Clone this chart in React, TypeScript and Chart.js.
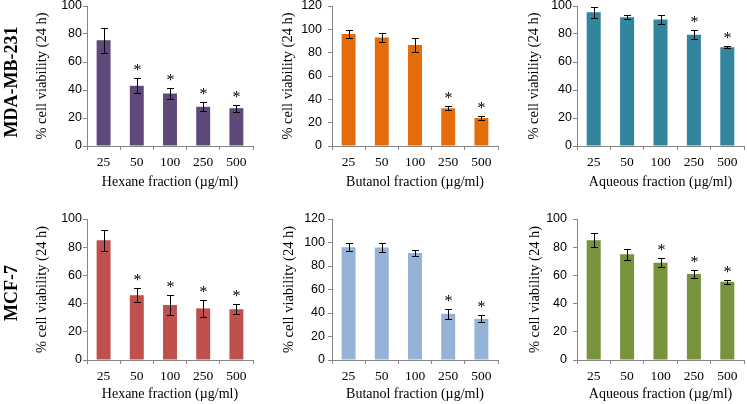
import React, { useEffect, useRef } from 'react';
import { Chart, registerables } from 'chart.js';

Chart.register(...registerables);

// ---------- data ----------
const categories = ['25', '50', '100', '250', '500'];

const hexaneMDA = [75.5, 43, 37.5, 28, 27];
const hexaneMDAErr = [8.8, 5.3, 3.7, 3.1, 2.6];
const hexaneMDAStars = [false, true, true, true, true];

const butanolMDA = [96, 93, 86.5, 32.3, 24];
const butanolMDAErr = [3.2, 4.2, 6, 1.7, 1.4];
const butanolMDAStars = [false, false, false, true, true];

const aqueousMDA = [95.5, 92, 90.3, 79.5, 70.5];
const aqueousMDAErr = [3.8, 1.5, 3, 3.2, 0.6];
const aqueousMDAStars = [false, false, false, true, true];

const hexaneMCF = [85, 46, 39, 36.6, 36];
const hexaneMCFErr = [7.5, 5, 6.8, 6.2, 3.4];
const hexaneMCFStars = [false, true, true, true, true];

const butanolMCF = [96, 95.8, 91, 39.3, 35];
const butanolMCFErr = [3.5, 3.5, 2.2, 4.5, 3];
const butanolMCFStars = [false, false, false, true, true];

const aqueousMCF = [85, 75, 69, 61, 55.5];
const aqueousMCFErr = [5, 3.8, 3.1, 2.8, 1.3];
const aqueousMCFStars = [false, false, true, true, true];

const rowLabels = ['MDA-MB-231', 'MCF-7'];
const yAxisTitle = '% cell viability (24 h)';
const xTitles = ['Hexane fraction (µg/ml)', 'Butanol fraction (µg/ml)', 'Aqueous fraction (µg/ml)'];

// ---------- layout / style ----------
type Panel = {
  left: number; top: number; width: number; height: number;
  L: number; T: number; R: number; B: number;
  yMax: number; color: string;
  values: number[]; errors: number[]; stars: boolean[];
  xTitle: string; yTickPad: number; yTitleX: number; xTitleY: number;
};

const colX = [
  { left: 20, width: 240, L: 87, R: 253 },
  { left: 262, width: 240, L: 332, R: 498 },
  { left: 507, width: 240, L: 577, R: 744 },
];

const panels: Panel[] = [
  { ...colX[0], top: -14, height: 214, T: 6, B: 146, yMax: 100, color: '#5F497A', values: hexaneMDA, errors: hexaneMDAErr, stars: hexaneMDAStars, xTitle: xTitles[0], yTickPad: 1, yTitleX: 42.5, xTitleY: 182.5 },
  { ...colX[1], top: -14, height: 214, T: 6, B: 146, yMax: 120, color: '#E46C0A', values: butanolMDA, errors: butanolMDAErr, stars: butanolMDAStars, xTitle: xTitles[1], yTickPad: 6, yTitleX: 288.5, xTitleY: 182.5 },
  { ...colX[2], top: -14, height: 214, T: 6, B: 146, yMax: 100, color: '#31859C', values: aqueousMDA, errors: aqueousMDAErr, stars: aqueousMDAStars, xTitle: xTitles[2], yTickPad: 1, yTitleX: 534.5, xTitleY: 182.5 },
  { ...colX[0], top: 200, height: 204, T: 219, B: 360, yMax: 100, color: '#C0504D', values: hexaneMCF, errors: hexaneMCFErr, stars: hexaneMCFStars, xTitle: xTitles[0], yTickPad: 1, yTitleX: 42, xTitleY: 394.5 },
  { ...colX[1], top: 200, height: 204, T: 219, B: 360, yMax: 120, color: '#95B3D7', values: butanolMCF, errors: butanolMCFErr, stars: butanolMCFStars, xTitle: xTitles[1], yTickPad: 3, yTitleX: 289, xTitleY: 394.5 },
  { ...colX[2], top: 200, height: 204, T: 219, B: 360, yMax: 100, color: '#77933C', values: aqueousMCF, errors: aqueousMCFErr, stars: aqueousMCFStars, xTitle: xTitles[2], yTickPad: 6, yTitleX: 535, xTitleY: 394.5 },
];

const AXIS_GRAY = '#868686';
const SERIF = '"Liberation Serif", "Times New Roman", serif';
const SANS = '"Liberation Sans", Arial, sans-serif';

const errorStarsPlugin = {
  id: 'errorStars',
  afterDatasetsDraw(chart: any, _args: any, opts: any) {
    const { ctx } = chart;
    const meta = chart.getDatasetMeta(0);
    const yScale = chart.scales.y;
    const vals = chart.data.datasets[0].data as number[];
    const errs: number[] = opts.errors || [];
    const stars: boolean[] = opts.stars || [];
    ctx.save();
    ctx.strokeStyle = '#000';
    ctx.lineWidth = 1;
    ctx.fillStyle = '#000';
    ctx.font = `16px ${SERIF}`;
    ctx.textAlign = 'center';
    ctx.textBaseline = 'alphabetic';
    meta.data.forEach((bar: any, i: number) => {
      const x = Math.round(bar.x) + 0.5;
      const v = vals[i];
      const e = errs[i] || 0;
      const yt = Math.round(yScale.getPixelForValue(v + e)) + 0.5;
      const yb = Math.round(yScale.getPixelForValue(v - e)) + 0.5;
      ctx.beginPath();
      ctx.moveTo(x, yt); ctx.lineTo(x, yb);
      ctx.moveTo(x - 3.5, yt); ctx.lineTo(x + 3.5, yt);
      ctx.moveTo(x - 3.5, yb); ctx.lineTo(x + 3.5, yb);
      ctx.stroke();
      if (stars[i]) {
        ctx.fillText('*', x, yt - 3.5);
      }
    });
    ctx.restore();
  },
};

function PanelChart({ p }: { p: Panel }) {
  const ref = useRef<HTMLCanvasElement | null>(null);
  useEffect(() => {
    if (!ref.current) return;
    const titleLH = 14 * 1.2;
    const yTitleLH = 14.5 * 1.2;
    const chart = new Chart(ref.current, {
      type: 'bar',
      data: {
        labels: categories,
        datasets: [{
          data: p.values,
          backgroundColor: p.color,
          borderWidth: 0,
          categoryPercentage: 1,
          barPercentage: 0.42,
        }],
      },
      options: {
        animation: false,
        responsive: false,
        devicePixelRatio: 1,
        layout: {
          padding: {
            left: 0,
            top: p.T - p.top,
            right: p.left + p.width - p.R,
            bottom: 0,
          },
        },
        plugins: {
          legend: { display: false },
          tooltip: { enabled: false },
          errorStars: { errors: p.errors, stars: p.stars },
        } as any,
        scales: {
          x: {
            afterFit: (s: any) => { s.height = p.top + p.height - p.B; },
            grid: { offset: true, drawOnChartArea: false, drawTicks: true, tickLength: 4, color: AXIS_GRAY },
            border: { display: true, color: AXIS_GRAY, width: 1 },
            ticks: { color: '#000', font: { family: SERIF, size: 13.5 }, padding: 4, maxRotation: 0, autoSkip: false },
            title: {
              display: true, text: p.xTitle, color: '#000',
              font: { family: SERIF, size: 14 },
              padding: { top: 0, bottom: (p.top + p.height) - p.xTitleY - titleLH / 2 },
            },
          },
          y: {
            min: 0, max: p.yMax,
            afterFit: (s: any) => { s.width = p.L - p.left; },
            grid: { drawOnChartArea: false, drawTicks: true, tickLength: 4, color: AXIS_GRAY },
            border: { display: true, color: AXIS_GRAY, width: 1 },
            ticks: { stepSize: 20, color: '#000', font: { family: SANS, size: 12.5 }, padding: p.yTickPad },
            title: {
              display: true, text: yAxisTitle, color: '#000',
              font: { family: SERIF, size: 14.5 },
              padding: { top: p.yTitleX - p.left - yTitleLH / 2, bottom: 0 },
            },
          },
        },
      },
      plugins: [errorStarsPlugin as any],
    });
    return () => chart.destroy();
  }, [p]);
  return (
    <canvas
      ref={ref}
      width={p.width}
      height={p.height}
      style={{ position: 'absolute', left: p.left, top: p.top, width: p.width, height: p.height }}
    />
  );
}

export default function App() {
  const rowCenters = [81.5, 293];
  return (
    <div style={{ position: 'fixed', left: 0, top: 0, width: 747, height: 404, overflow: 'hidden', background: '#fff' }}>
      {panels.map((p, i) => <PanelChart key={i} p={p} />)}
      {rowLabels.map((t, i) => (
        <div
          key={t}
          style={{
            position: 'absolute', left: 11, top: rowCenters[i],
            transform: 'translate(-50%, -50%) rotate(-90deg)',
            font: `bold 18px ${SERIF}`, color: '#000', whiteSpace: 'nowrap', lineHeight: '20px',
          }}
        >
          {t}
        </div>
      ))}
    </div>
  );
}
